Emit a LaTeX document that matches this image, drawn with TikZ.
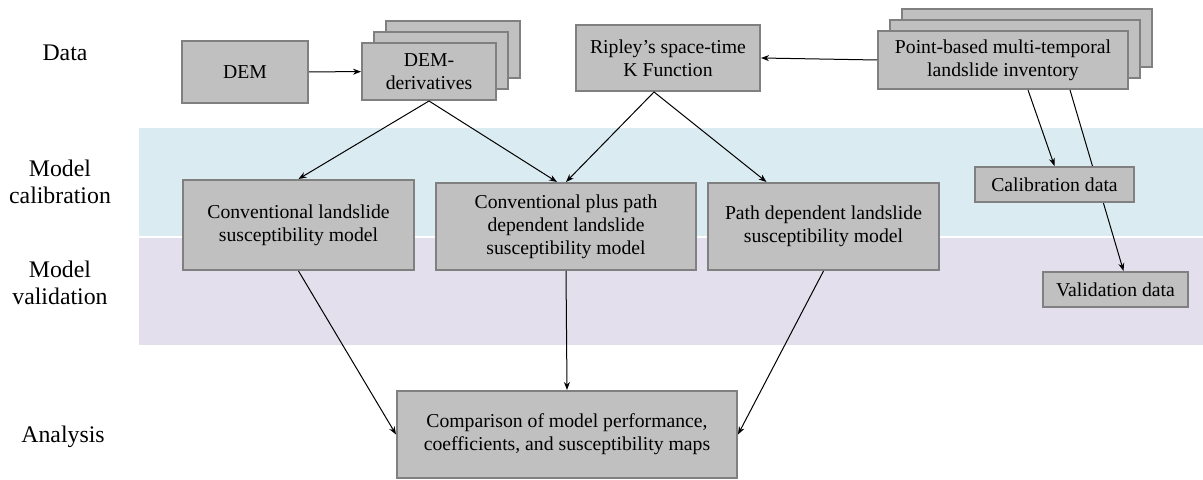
\documentclass[tikz,border=0pt]{standalone}
\usepackage{fontspec}
\setmainfont{Liberation Serif}
\usetikzlibrary{arrows.meta}
\usetikzlibrary{shadows}
\definecolor{boxfill}{RGB}{192,192,192}
\definecolor{boxline}{RGB}{128,128,128}
\definecolor{calband}{RGB}{218,236,242}
\definecolor{valband}{RGB}{228,223,236}
\tikzset{
	box/.style={rectangle,fill=boxfill,draw=boxline,line width=1pt,inner sep=0pt,align=center,font=\fontsize{9.85}{11.6}\selectfont},
	stackbox/.style={box,double copy shadow={shadow xshift=6pt,shadow yshift=5.5pt,fill=boxfill,draw=boxline,line width=1pt}},
	rowlab/.style={align=center,inner sep=0pt,font=\fontsize{11.9}{13.6}\selectfont},
	conn/.style={->,line width=0.5pt},
	>={Stealth[length=4pt,width=3pt]},
	}
\begin{document}
\begin{tikzpicture}[x=0.5pt,y=-0.5pt]
\useasboundingbox (0,0) rectangle (1203,480);
%BANDS
\fill[calband] (139,128) rectangle (1203,237);
\fill[valband] (139,237) rectangle (1203,345);
\draw[white,line width=0.8pt] (139,237) -- (1203,237);
%ROW LABELS
\node[rowlab] (ldata) at (65,53) {Data};
\node[rowlab] (lcal) at (60,182) {Model\\calibration};
\node[rowlab] (lval) at (60,283) {Model\\validation};
\node[rowlab] (lana) at (63,437) {Analysis};
%DATA
\node[box,minimum width=63pt,minimum height=31pt] (dem) at (245,72) {DEM};
\node[stackbox,minimum width=67pt,minimum height=28.5pt] (demd) at (429,71.5) {DEM-\\derivatives};
\node[box,minimum width=92pt,minimum height=33pt] (ripley) at (668,58) {Ripley’s space-time\\K Function};
\node[stackbox,minimum width=125pt,minimum height=29pt] (inv) at (1003,60) {Point-based multi-temporal\\landslide inventory};
%MODELS
\node[box,minimum width=115.5pt,minimum height=45pt] (conv) at (298.5,225) {Conventional landslide\\susceptibility model};
\node[box,minimum width=130pt,minimum height=43.5pt] (plus) at (566,226.5) {Conventional plus path\\dependent landslide\\susceptibility model};
\node[box,minimum width=115.5pt,minimum height=43.5pt] (path) at (823.5,226.5) {Path dependent landslide\\susceptibility model};
\node[box,minimum width=72.5pt,minimum height=17.5pt] (valid) at (1115.5,289.5) {Validation data};
%ANALYSIS
\node[box,minimum width=170pt,minimum height=43.5pt] (comp) at (567,434.5) {Comparison of model performance,\\coefficients, and susceptibility maps};
%ARROWS
\draw[conn] (dem) -- (demd);
\draw[conn] (inv.west) -- (ripley.east);
\draw[conn] (demd.south) -- (conv.north);
\draw[conn] (demd.south) -- ([xshift=-4.5pt]plus.north);
\draw[conn] ([xshift=-7pt]ripley.south) -- (plus.north);
\draw[conn] ([xshift=-7pt]ripley.south) -- ([xshift=-28.5pt]path.north);
\draw[conn] (conv.south) -- (comp.west);
\draw[conn] (plus.south) -- (comp.north);
\draw[conn] (path.south) -- (comp.east);
\draw[conn] ([xshift=33.5pt]inv.south) -- ([xshift=4pt]valid.north);
% calibration box over the validation line
\node[box,minimum width=79.5pt,minimum height=17.5pt] (calib) at (1054.5,184.5) {Calibration data};
\draw[conn] ([xshift=12.5pt]inv.south) -- (calib.north);
\end{tikzpicture}
\end{document}
